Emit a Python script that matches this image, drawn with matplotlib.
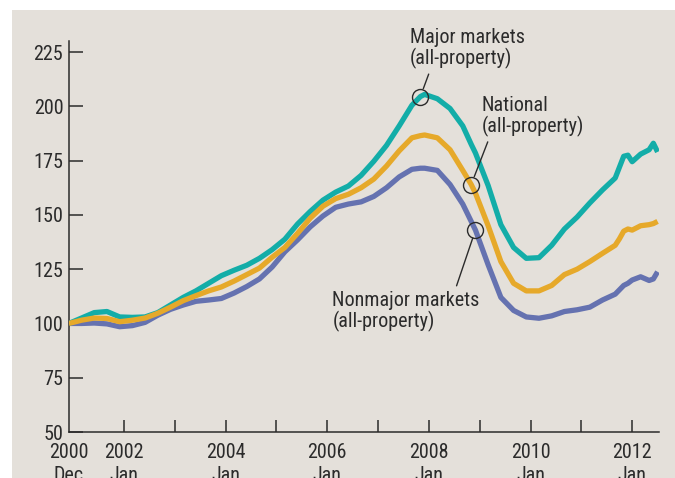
import matplotlib
matplotlib.use("Agg")
import matplotlib.pyplot as plt
from matplotlib.patches import Rectangle

plt.rcParams['font.family'] = ['Roboto Condensed', 'Archivo Narrow', 'DejaVu Sans']

# dates as year-month, last point mid 2012
dates = ['2000-12',
         '2001-03', '2001-06', '2001-09', '2001-12',
         '2002-03', '2002-06', '2002-09', '2002-12',
         '2003-03', '2003-06', '2003-09', '2003-12',
         '2004-03', '2004-06', '2004-09', '2004-12',
         '2005-03', '2005-06', '2005-09', '2005-12',
         '2006-03', '2006-06', '2006-09', '2006-12',
         '2007-03', '2007-06', '2007-09', '2007-11', '2007-12',
         '2008-03', '2008-06', '2008-09', '2008-11', '2008-12',
         '2009-03', '2009-06', '2009-09', '2009-12',
         '2010-03', '2010-06', '2010-09', '2010-12',
         '2011-03', '2011-06', '2011-09', '2011-10', '2011-11', '2011-12',
         '2012-01', '2012-03', '2012-05', '2012-06', '2012-07']

major = [100,
         102.5, 105, 105.5, 103,
         102.8, 103, 105, 108.5,
         112, 115, 118.5, 122,
         124.5, 126.8, 130, 134,
         138.8, 145.8, 151.6, 156.8,
         160.5, 163.3, 168.2, 174.7,
         182, 191, 200.5, 204.5, 205.5,
         203.5, 199, 191, 182.5, 178.5,
         163.5, 145.5, 135, 130,
         130.3, 136, 143.5, 149,
         155.5, 161.5, 167, 172, 177, 177.5,
         174.5, 178, 180, 183, 179]

national = [100,
            101.5, 102.5, 102.3, 100.8,
            101.5, 102.5, 104.7, 107.5,
            110.5, 112.8, 115, 116.8,
            119.5, 122.5, 125.5, 130.5,
            135, 141.5, 148.5, 154,
            157.5, 159.5, 162.5, 166.5,
            172.5, 179.5, 185.5, 186.5, 186.8,
            185.5, 180, 170.5, 164, 160,
            145, 128.5, 118.5, 115,
            115, 117.5, 122.5, 125,
            128.5, 132.3, 136, 139, 142.5, 143.5,
            143, 145, 145.5, 146, 147]

nonmajor = [100,
            100, 100.2, 99.8, 98.5,
            99, 100.5, 103.8, 106.5,
            108.5, 110.2, 110.8, 111.5,
            114, 117, 120.5, 126,
            133, 138.5, 144.5, 149.5,
            153.5, 155, 156, 158.5,
            162.5, 167.5, 171, 171.5, 171.5,
            170.5, 164, 155, 147, 143,
            127, 112, 106, 103,
            102.4, 103.5, 105.5, 106.3,
            107.5, 110.8, 113.5, 115.5, 117.5, 118.5,
            120, 121.5, 119.8, 120.5, 123.8]

yticks = [50, 75, 100, 125, 150, 175, 200, 225]
xlabels = ['2000\nDec', '2002\nJan', '2004\nJan', '2006\nJan', '2008\nJan', '2010\nJan', '2012\nJan']


def to_year(s):
    y, m = s.split('-')
    return int(y) + (int(m) - 1) / 12


t = [to_year(d) for d in dates]

bg = '#e4e0da'
teal = '#13ada8'
gold = '#e6a92a'
slate = '#6572b0'
ink = '#2b2b2b'

fig = plt.figure(figsize=(6.75, 4.78), dpi=100)
fig.patch.set_facecolor('white')
fig.patches.append(Rectangle((12 / 675, 0), 1, 1 - 10 / 478, transform=fig.transFigure,
                             facecolor=bg, edgecolor='none', zorder=-5))

ax = fig.add_axes([0.102, 0.0962, 0.8737, 0.8176])
ax.set_facecolor('none')

ax.plot(t, nonmajor, color=slate, lw=3.8, solid_capstyle='butt', zorder=2)
ax.plot(t, major, color=teal, lw=3.8, solid_capstyle='butt', zorder=3)
ax.plot(t, national, color=gold, lw=3.8, solid_capstyle='butt', zorder=4)

ax.set_xlim(to_year('2000-12'), 2012.52)
ax.set_ylim(50, 230)

for s in ['top', 'right']:
    ax.spines[s].set_visible(False)
for s in ['left', 'bottom']:
    ax.spines[s].set_color(ink)
    ax.spines[s].set_linewidth(1.1)

ax.set_yticks(yticks)
ax.tick_params(axis='y', direction='in', length=10, width=1.1, color=ink,
               labelsize=14.5, labelcolor=ink, pad=4)

xt = [to_year('2000-12')] + [to_year(f'{y}-01') for y in range(2002, 2013, 2)]
ax.set_xticks(xt)
ax.set_xticklabels(xlabels, linespacing=1.25)
ax.set_xticks([to_year(f'{y}-01') for y in range(2003, 2013, 2)], minor=True)
ax.tick_params(axis='x', which='both', direction='in', length=9, width=1.1, color=ink,
               labelsize=14.5, labelcolor=ink, pad=8)
ax.xaxis.get_major_ticks()[0].tick1line.set_visible(False)

# circles and callouts
circ = dict(marker='o', ms=11.5, mfc='none', mec=ink, mew=1.0, zorder=6)
i_maj = dates.index('2007-11')
i_nat = dates.index('2008-11')
i_non = dates.index('2008-12')
ax.plot(t[i_maj], major[i_maj], **circ)
ax.plot(t[i_nat], national[i_nat], **circ)
ax.plot(t[i_non], nonmajor[i_non], **circ)

arrow = lambda rp: dict(arrowstyle='-', color=ink, lw=1.0, shrinkA=2, shrinkB=6, relpos=rp)
ax.annotate('Major markets\n(all-property)', xy=(t[i_maj], major[i_maj]),
            xytext=(-7.5, 49.5), textcoords='offset points', ha='left', va='top',
            fontsize=14.5, color=ink, linespacing=1.05, arrowprops=arrow((0.18, 0)))
ax.annotate('National\n(all-property)', xy=(t[i_nat], national[i_nat]),
            xytext=(7.5, 64), textcoords='offset points', ha='left', va='top',
            fontsize=14.5, color=ink, linespacing=1.05, arrowprops=arrow((0.08, 0)))
ax.annotate('Nonmajor markets\n(all-property)', xy=(t[i_non], nonmajor[i_non]),
            xytext=(-103, -44), textcoords='offset points', ha='left', va='top',
            fontsize=14.5, color=ink, linespacing=1.05, arrowprops=arrow((0.83, 1)))

fig.savefig('out.png', dpi=100)
